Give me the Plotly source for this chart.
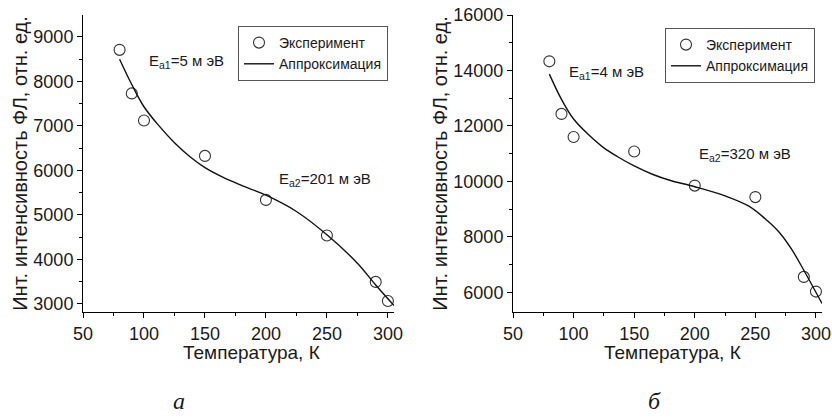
import plotly.graph_objects as go

# ---- data ----
T_exp = [80, 90, 100, 150, 200, 250, 290, 300]
I_exp_a = [8710, 7730, 7120, 6325, 5335, 4535, 3490, 3060]
I_exp_b = [14330, 12435, 11600, 11080, 9850, 9435, 6560, 6030]

T_fit_a = [80, 90, 100, 112, 125, 138, 150, 165, 180, 200, 225, 250, 275, 290, 305]
I_fit_a = [8500, 7930, 7430, 7010, 6620, 6300, 6060, 5840, 5660, 5440, 5074, 4550, 3910, 3420, 2960]

T_fit_b = [80, 90, 100, 112, 125, 136, 150, 165, 180, 200, 225, 245, 260, 270, 280, 290, 305]
I_fit_b = [13870, 12960, 12250, 11700, 11210, 10900, 10560, 10260, 10033, 9810, 9480, 9100, 8580, 8150, 7550, 6800, 5600]

x_ticks = [50, 100, 150, 200, 250, 300]
y_ticks_a = [3000, 4000, 5000, 6000, 7000, 8000, 9000]
y_ticks_b = [6000, 8000, 10000, 12000, 14000, 16000]

labels_exp = "Эксперимент"
labels_fit = "Аппроксимация"
x_title = "Температура, К"
y_title = "Инт. интенсивность ФЛ, отн. ед."

FONT = "Liberation Sans, Arial, sans-serif"
TXT = "#1a1a1a"

fig = go.Figure()

fig.add_trace(go.Scatter(x=T_exp, y=I_exp_a, mode="markers", name=labels_exp,
                         marker=dict(symbol="circle-open", size=11, color="#333333", line=dict(width=1.1)),
                         xaxis="x", yaxis="y", legend="legend"))
fig.add_trace(go.Scatter(x=T_fit_a, y=I_fit_a, mode="lines", name=labels_fit,
                         line=dict(color="#111111", width=1.4, shape="spline", smoothing=1.0),
                         xaxis="x", yaxis="y", legend="legend"))
fig.add_trace(go.Scatter(x=T_exp, y=I_exp_b, mode="markers", name=labels_exp,
                         marker=dict(symbol="circle-open", size=11, color="#333333", line=dict(width=1.1)),
                         xaxis="x2", yaxis="y2", legend="legend2"))
fig.add_trace(go.Scatter(x=T_fit_b, y=I_fit_b, mode="lines", name=labels_fit,
                         line=dict(color="#111111", width=1.4, shape="spline", smoothing=1.0),
                         xaxis="x2", yaxis="y2", legend="legend2"))

W, H = 832, 419
def px_x(p):
    return p / W
def px_y(p):
    return 1 - p / H

common_x = dict(range=[50, 305], tickvals=x_ticks, showline=True, linecolor="black", linewidth=1,
                ticks="outside", ticklen=5, tickwidth=1, tickcolor="black", showgrid=False, zeroline=False,
                automargin=False,
                minor=dict(dtick=25, tick0=50, ticks="outside", ticklen=3, tickcolor="black", showgrid=False),
                tickfont=dict(family=FONT, size=18, color=TXT))
common_y = dict(showline=True, linecolor="black", linewidth=1, automargin=False,
                ticks="outside", ticklen=5, tickwidth=1, tickcolor="black", showgrid=False, zeroline=False,
                tickfont=dict(family=FONT, size=18, color=TXT), tickformat="d",
                title=dict(text=y_title, font=dict(family=FONT, size=20, color=TXT), standoff=0))

ydom = [px_y(312), px_y(15)]

fig.update_layout(
    width=W, height=H, margin=dict(l=0, r=0, t=0, b=0, autoexpand=False),
    paper_bgcolor="white", plot_bgcolor="white",
    showlegend=True,
    xaxis=dict(common_x, domain=[px_x(83), px_x(394)], anchor="y"),
    yaxis=dict(common_y, domain=ydom, range=[2813, 9494], tickvals=y_ticks_a, anchor="x",
               minor=dict(dtick=500, tick0=3000, ticks="outside", ticklen=3, tickcolor="black", showgrid=False)),
    xaxis2=dict(common_x, domain=[px_x(513), px_x(822)], anchor="y2"),
    yaxis2=dict(common_y, domain=ydom, range=[5294, 16000], tickvals=y_ticks_b, anchor="x2",
                minor=dict(dtick=1000, tick0=6000, ticks="outside", ticklen=3, tickcolor="black", showgrid=False)),
    legend=dict(x=px_x(238), y=px_y(26), xanchor="left", yanchor="top",
                bordercolor="#555555", borderwidth=1, bgcolor="white",
                font=dict(family=FONT, size=14, color=TXT), tracegroupgap=0, itemwidth=30),
    legend2=dict(x=px_x(665), y=px_y(28), xanchor="left", yanchor="top",
                 bordercolor="#555555", borderwidth=1, bgcolor="white",
                 font=dict(family=FONT, size=14, color=TXT), tracegroupgap=0, itemwidth=30),
)

# x-axis titles (placed as in the reference)
xt_font = dict(family=FONT, size=19, color=TXT)
fig.add_annotation(x=px_x(251), y=px_y(352), xref="paper", yref="paper", text=x_title,
                   showarrow=False, xanchor="center", yanchor="middle", font=xt_font)
fig.add_annotation(x=px_x(672), y=px_y(352), xref="paper", yref="paper", text=x_title,
                   showarrow=False, xanchor="center", yanchor="middle", font=xt_font)

ann_font = dict(family=FONT, size=15, color=TXT)
fig.add_annotation(x=102.5, y=8438, xref="x", yref="y", text="E<sub>a1</sub>=5 м эВ",
                   showarrow=False, xanchor="left", yanchor="middle", font=ann_font)
fig.add_annotation(x=209, y=5787, xref="x", yref="y", text="E<sub>a2</sub>=201 м эВ",
                   showarrow=False, xanchor="left", yanchor="middle", font=ann_font)
fig.add_annotation(x=94.8, y=13911, xref="x2", yref="y2", text="E<sub>a1</sub>=4 м эВ",
                   showarrow=False, xanchor="left", yanchor="middle", font=ann_font)
fig.add_annotation(x=201.8, y=10958, xref="x2", yref="y2", text="E<sub>a2</sub>=320 м эВ",
                   showarrow=False, xanchor="left", yanchor="middle", font=ann_font)

serif = dict(family="Liberation Serif, Times New Roman, serif", size=24, color=TXT)
fig.add_annotation(x=px_x(179), y=px_y(401), xref="paper", yref="paper", text="<i>а</i>",
                   showarrow=False, xanchor="center", yanchor="middle", font=serif)
fig.add_annotation(x=px_x(654), y=px_y(401), xref="paper", yref="paper", text="<i>б</i>",
                   showarrow=False, xanchor="center", yanchor="middle", font=serif)

fig.write_html("out.html", config={"displayModeBar": False},
               post_script="document.body.style.margin='0';document.body.style.padding='0';document.body.style.overflow='hidden';")
